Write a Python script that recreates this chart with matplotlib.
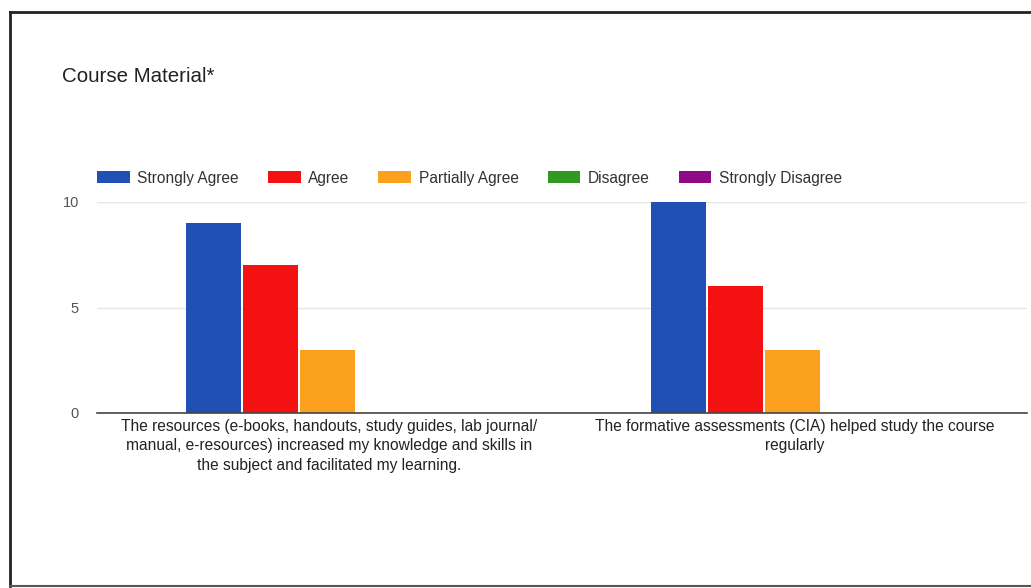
import numpy as np
import matplotlib.pyplot as plt
from matplotlib.lines import Line2D
from matplotlib.patches import Patch

# Data
categories = [
    "The resources (e-books, handouts, study guides, lab journal/\nmanual, e-resources) increased my knowledge and skills in\nthe subject and facilitated my learning.",
    "The formative assessments (CIA) helped study the course\nregularly",
]
series = ["Strongly Agree", "Agree", "Partially Agree", "Disagree", "Strongly Disagree"]
values = {
    "Strongly Agree": [9, 10],
    "Agree": [7, 6],
    "Partially Agree": [3, 3],
    "Disagree": [0, 0],
    "Strongly Disagree": [0, 0],
}
colors = ["#2150b5", "#f41111", "#fba11d", "#2f9a1f", "#8e0a86"]

W, H = 1031, 588
fig = plt.figure(figsize=(W / 100, H / 100), dpi=100)
plt.rcParams['font.family'] = ['Liberation Sans', 'DejaVu Sans']

ax = fig.add_axes([97 / W, 1 - 413 / H, (1027 - 97) / W, (413 - 202) / H])

x = np.arange(len(categories))
step = 57 / 465
width = 55 / 465
start = -0.5 + (186 - 97) / 465 + width / 2
for i, s in enumerate(series):
    ax.bar(x + start + i * step, values[s], width=width, color=colors[i], zorder=3)

ax.set_xlim(-0.5, 1.5)
ax.set_ylim(0, 10)
ax.set_yticks([0, 5, 10])
ax.tick_params(axis='y', length=0, pad=13, labelsize=10.5, labelcolor='#555555')
ax.tick_params(axis='x', length=0, pad=4, labelsize=11.2, labelcolor='#222222')
ax.set_xticks(x)
ax.set_xticklabels(categories, linespacing=1.4)
ax.grid(axis='y', color='#e6e6e6', linewidth=1, zorder=0)
for sp in ['top', 'right', 'left']:
    ax.spines[sp].set_visible(False)
ax.spines['bottom'].set_color('#444444')
ax.spines['bottom'].set_linewidth(1.2)
ax.spines['bottom'].set_zorder(4)

# Title
fig.text(62 / W, 1 - 77 / H, "Course Material*", fontsize=14.8, color='#222222', va='center')

# Legend
handles = [Patch(facecolor=c) for c in colors]
fig.legend(handles, series, loc='center left', bbox_to_anchor=(83 / W, 1 - 178 / H),
           ncol=5, frameon=False, fontsize=11.2, handlelength=2.1, handleheight=0.8,
           columnspacing=1.85, handletextpad=0.5, labelcolor='#333333')

# Frame around the screenshot
fig.add_artist(Line2D([10 / W, 1.0], [1 - 12 / H, 1 - 12 / H], color='#222222', lw=2))
fig.add_artist(Line2D([10 / W, 10 / W], [1 - 12 / H, 1 - 586 / H], color='#222222', lw=2))
fig.add_artist(Line2D([10 / W, 1.0], [1 - 586 / H, 1 - 586 / H], color='#555555', lw=1.5))

fig.savefig("out.png", dpi=100)
